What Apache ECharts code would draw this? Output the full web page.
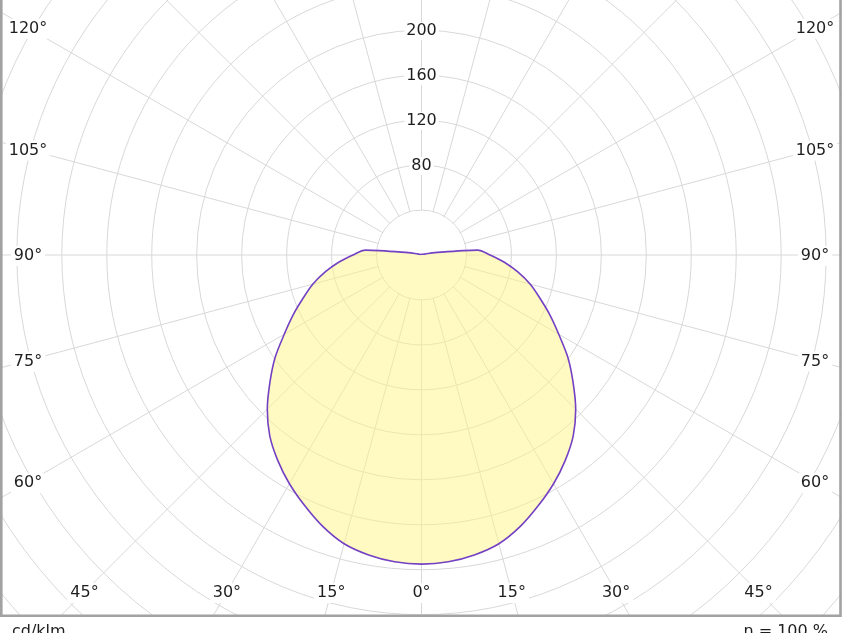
<!DOCTYPE html>
<html>
<head>
<meta charset="utf-8">
<script src="https://cdn.jsdelivr.net/npm/echarts@6/dist/echarts.min.js"></script>
<style>
html, body { margin: 0; padding: 0; background: #fff; }
#main { width: 844px; height: 633px; }
</style>
</head>
<body>
<div id="main"></div>
<script>
// luminous intensity distribution, cd/klm, gamma 0..180 deg (same in both half planes)
var gammaDeg = [0, 5, 10, 15, 20, 25, 30, 35, 40, 45, 50, 55, 60, 65, 70, 75, 80, 85, 90,
    95, 100, 105, 110, 115, 120, 125, 130, 135, 140, 145, 150, 155, 160, 165, 170, 175, 180];
var intensity = [275, 274, 271, 266, 257, 246, 235, 223, 210, 194, 176, 159, 141, 126, 112, 100, 87, 74, 61,
    50, 12, 3, 2, 1, 1, 1, 1, 1, 1, 1, 1, 1, 1, 1, 1, 1, 1];
var ringLabels = [80, 120, 160, 200];
var angleLabels = [0, 15, 30, 45, 60, 75, 90, 105, 120];
var unitText = 'cd/klm';
var effText = 'η = 100 %';

var RMAX = 480;
var PX = 1.124;        // px per cd/klm
var FONT = 'DejaVu Sans';
var GRID = '#d8d8d8';

// angle value: 0 at top, clockwise; gamma 0 sits at the bottom (180)
var curve = [];
for (var v = 0; v <= 360; v += 5) {
    var g = Math.abs(v - 180);
    curve.push([intensity[gammaDeg.indexOf(g)], v]);
}

var myChart = echarts.init(document.getElementById('main'));
var option = {
    animation: false,
    polar: {
        center: [421.5, 255],
        radius: RMAX * PX
    },
    angleAxis: {
        type: 'value',
        min: 0,
        max: 360,
        interval: 15,
        startAngle: 90,
        clockwise: true,
        z: 0,
        axisLine: { show: false },
        axisTick: { show: false },
        axisLabel: { show: false },
        splitLine: { show: true, lineStyle: { color: GRID, width: 1 } }
    },
    radiusAxis: {
        type: 'value',
        min: 0,
        max: RMAX,
        interval: 40,
        z: 0,
        axisLine: { show: false },
        axisTick: { show: false },
        axisLabel: { show: false },
        splitLine: { show: true, lineStyle: { color: GRID, width: 1 } }
    },
    series: [
        {
            type: 'line',
            coordinateSystem: 'polar',
            data: curve,
            symbol: 'none',
            smooth: 0.3,
            z: 2,
            lineStyle: { color: '#7440c4', width: 1.6 },
            areaStyle: { color: '#fff686', opacity: 0.5 }
        }
    ]
};
myChart.setOption(option);

var c = myChart.convertToPixel({ polarIndex: 0 }, [0, 0]);
var elements = [];

// blank the grid inside the first ring
var ring1 = myChart.convertToPixel({ polarIndex: 0 }, [40, 0]);
elements.push({
    type: 'circle',
    z: 1,
    shape: { cx: c[0], cy: c[1], r: Math.abs(c[1] - ring1[1]) - 0.8 },
    style: { fill: '#fff' }
});

// ring values along the upward axis
ringLabels.forEach(function (r) {
    var p = myChart.convertToPixel({ polarIndex: 0 }, [r, 0]);
    elements.push({
        type: 'text',
        z: 10,
        x: p[0],
        y: p[1] + 1,
        style: {
            text: String(r),
            font: '16px "' + FONT + '"',
            fill: '#1e1e1e',
            align: 'center',
            verticalAlign: 'middle',
            backgroundColor: '#fff',
            padding: [1, 2]
        }
    });
});

// angle labels where the rays meet the label box
var boxL = 28, boxR = 815, boxB = 592;
angleLabels.forEach(function (gam) {
    var sides = gam === 0 ? [180] : [180 + gam, 180 - gam];
    sides.forEach(function (a) {
        var p = myChart.convertToPixel({ polarIndex: 0 }, [100, a]);
        var dx = (p[0] - c[0]) / (100 * PX), dy = (p[1] - c[1]) / (100 * PX);
        var t = 1e9;
        if (dy > 1e-6) t = Math.min(t, (boxB - c[1]) / dy);
        if (dx < -1e-6) t = Math.min(t, (boxL - c[0]) / dx);
        if (dx > 1e-6) t = Math.min(t, (boxR - c[0]) / dx);
        elements.push({
            type: 'text',
            z: 10,
            x: c[0] + dx * t,
            y: c[1] + dy * t + 1,
            style: {
                text: gam + '°',
                font: '16px "' + FONT + '"',
                fill: '#1e1e1e',
                align: 'center',
                verticalAlign: 'middle',
                backgroundColor: '#fff',
                padding: [2, 3]
            }
        });
    });
});

// frame and outside strip
elements.push({ type: 'rect', z: 19, shape: { x: 0, y: 617, width: 844, height: 20 }, style: { fill: '#fff' } });
elements.push({ type: 'rect', z: 19, shape: { x: 842, y: 0, width: 4, height: 633 }, style: { fill: '#fff' } });
elements.push({
    type: 'rect',
    z: 20,
    shape: { x: 1.3, y: -10, width: 839.2, height: 625.8 },
    style: { fill: 'none', stroke: '#a2a2a2', lineWidth: 2.6 }
});
elements.push({
    type: 'text', z: 21, x: 12, y: 624,
    style: { text: unitText, font: '16px "' + FONT + '"', fill: '#1e1e1e', align: 'left', verticalAlign: 'top' }
});
elements.push({
    type: 'text', z: 21, x: 828, y: 624,
    style: { text: effText, font: '16px "' + FONT + '"', fill: '#1e1e1e', align: 'right', verticalAlign: 'top' }
});

myChart.setOption({ graphic: { elements: elements } });
</script>
</body>
</html>
